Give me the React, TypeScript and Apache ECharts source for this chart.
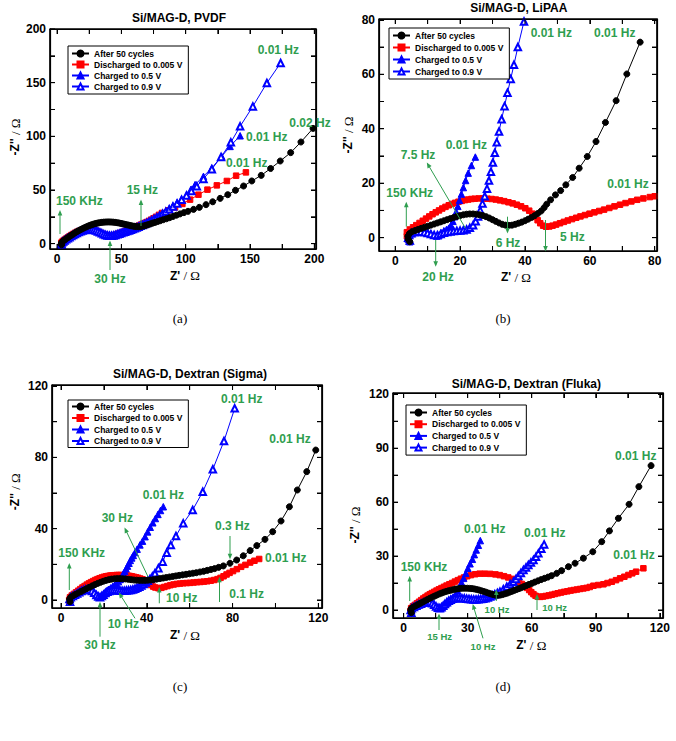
import React, { useEffect, useRef } from "react";
import * as echarts from "echarts";

type P = [number, number];

const seriesNames = ["After 50 cycles", "Discharged to 0.005 V", "Charged to 0.5 V", "Charged to 0.9 V"];

const aAfter: P[] = [[3.5,-1],[3.3,0.3],[3.8,1.4],[4.7,2.4],[5.8,3.4],[7,4.4],[8.3,5.5],[9.6,6.6],[11,7.7],[12.4,8.8],[13.8,9.9],[15.2,11],[16.7,12],[18.2,13],[19.7,13.9],[21.2,14.8],[22.7,15.6],[24.2,16.4],[25.7,17.1],[27.2,17.7],[28.7,18.3],[30.2,18.8],[31.7,19.2],[33.2,19.5],[34.7,19.8],[36.2,20],[37.7,20.1],[39.2,20.2],[40.7,20.2],[42.2,20.1],[43.7,20],[45.2,19.8],[46.7,19.5],[48.2,19.2],[49.7,18.8],[51.2,18.4],[52.7,18],[54.2,17.6],[55.7,17.2],[57.2,16.8],[58.7,16.4],[60.2,16.1],[61.7,15.9],[63.2,15.8],[64.7,15.9],[66.2,16.2],[67.7,16.6],[69.2,17.1],[70.8,17.7],[72.5,18.4],[74.3,19.1],[76.2,19.8],[78.2,20.6],[80.3,21.4],[82.6,22.3],[85,23.2],[87.5,24.2],[90.1,25.3],[92.8,26.5],[95.6,27.7],[98.6,28.9],[101.8,30.1],[106.1,31.9],[110.6,33.8],[115.8,36.3],[121,39],[126.8,42.2],[132.7,45.6],[138.7,49.7],[145,53.7],[151.4,58.4],[158.7,63.6],[166,70],[173.5,77],[181.6,84.8],[189.6,94.7],[199,107.4]];
const aDis: P[] = [[3.5,-0.5],[3.3,0.8],[3.9,1.8],[4.8,2.7],[5.9,3.7],[7.1,4.7],[8.4,5.8],[9.7,6.9],[11.1,8],[12.5,9],[13.9,10],[15.4,10.9],[16.9,11.7],[18.4,12.4],[19.9,12.9],[21.4,13.3],[22.9,13.5],[24.4,13.6],[25.9,13.5],[27.4,13.2],[28.9,12.6],[30.4,11.9],[31.9,11],[33.4,10.1],[34.9,9.2],[36.4,8.4],[37.9,7.7],[39.4,7.2],[40.9,7],[42.4,7.1],[43.9,7.5],[45.4,8.1],[46.9,8.8],[48.4,9.5],[49.9,10.2],[51.4,10.9],[52.9,11.6],[54.4,12.3],[55.9,13],[57.4,13.7],[58.9,14.4],[60.4,15.1],[61.9,15.9],[63.4,16.7],[64.9,17.5],[66.4,18.3],[67.9,19.1],[69.5,20],[71.3,21.1],[73.1,22.3],[75,23.6],[76.9,25],[79.2,26.8],[81.6,28.6],[86.5,31],[91.7,33.8],[97.4,37],[103.4,41],[109.9,45.6],[116.9,50.3],[124.2,54.3],[132,58.4],[139.2,63.3],[146.8,66.4]];
const aCh05: P[] = [[3.5,-1],[3.3,0.3],[3.8,1.3],[4.7,2.2],[5.8,3.1],[7,4.1],[8.3,5.1],[9.6,6.1],[11,7.1],[12.4,8.1],[13.8,9.1],[15.3,10],[16.8,10.9],[18.3,11.7],[19.8,12.4],[21.3,12.9],[22.8,13.3],[24.3,13.5],[25.8,13.5],[27.3,13.3],[28.8,12.9],[30.3,12.3],[31.8,11.5],[33.3,10.6],[34.8,9.7],[36.3,8.9],[37.8,8.2],[39.3,7.7],[40.8,7.4],[42.3,7.4],[43.8,7.7],[45.3,8.2],[46.8,8.8],[48.3,9.4],[49.8,10],[51.3,10.6],[52.8,11.2],[54.3,11.8],[55.8,12.4],[57.3,13],[58.8,13.7],[60.3,14.6],[61.8,15.4],[63.3,16.2],[64.8,17],[66.4,17.9],[68,18.8],[69.7,19.8],[71.5,20.9],[73.4,22.1],[75.4,23.4],[77.5,24.9],[79.7,26.5],[82,28.3],[84.5,30.3],[87.2,32.6],[90.1,35.2],[93.3,38.2],[96.8,41.6],[100.8,45.6],[104,50.5],[107.3,55],[113.8,62.7],[120.3,70.5],[128,81.3],[134.5,90.6],[142.3,100.5]];
const aCh09: P[] = [[3.5,-1],[3.3,0.2],[3.8,1.2],[4.7,2.1],[5.8,3],[7,4],[8.3,5],[9.6,6],[11,7],[12.4,8],[13.8,9],[15.3,9.9],[16.8,10.8],[18.3,11.6],[19.8,12.3],[21.3,12.8],[22.8,13.2],[24.3,13.4],[25.8,13.4],[27.3,13.2],[28.8,12.8],[30.3,12.2],[31.8,11.4],[33.3,10.5],[34.8,9.6],[36.3,8.8],[37.8,8.1],[39.3,7.6],[40.8,7.3],[42.3,7.3],[43.8,7.6],[45.3,8.1],[46.8,8.7],[48.3,9.3],[49.8,9.9],[51.3,10.5],[52.8,11.1],[54.3,11.7],[55.8,12.3],[57.3,12.9],[58.8,13.6],[60.3,14.4],[61.8,15.1],[63.3,15.8],[64.8,16.6],[66.4,17.4],[68,18.3],[69.7,19.3],[71.5,20.4],[73.4,21.6],[75.4,22.9],[77.5,24.4],[79.7,26],[82,27.8],[84.5,29.8],[87.2,32],[90.1,34.5],[93.3,37.4],[96.8,40.8],[100.6,44.8],[104.4,49],[108.6,53.4],[113.8,60.3],[120.3,69.4],[127.5,80.7],[135.1,94.4],[142.3,109.3],[152.2,127.9],[163.1,149.7],[173.8,168.3]];

const bAfter: P[] = [[4.5,-1.5],[4,-0.6],[3.9,0.5],[4.4,1.5],[5.2,2.2],[6.1,2.6],[7,3],[8,3.4],[9,3.8],[10,4.2],[11,4.6],[12,5],[13,5.4],[14,5.8],[15,6.2],[16,6.6],[17,7],[18,7.4],[19,7.8],[20,8.1],[21,8.4],[22,8.6],[23,8.7],[24,8.7],[25,8.6],[26,8.4],[27,8.1],[28,7.7],[29,7.2],[30,6.6],[31,6],[32,5.4],[33,4.9],[34,4.6],[35,4.5],[36,4.6],[37,4.9],[38,5.3],[39,5.7],[40,6.2],[41,6.8],[42,7.4],[43,8.1],[44,8.9],[45,9.8],[45.9,11],[46.7,12.3],[47.9,13.9],[49.4,15.7],[51,17.3],[52.6,19.4],[54.7,22.1],[56.7,25.5],[59.2,29.8],[61.9,35.3],[64.8,42.3],[68.1,50.3],[71.4,60.1],[75.5,71.8]];
const bDis: P[] = [[4.2,-1],[3.6,0.5],[3.6,2],[4.5,3],[5.5,3.8],[6.5,4.6],[7.5,5.4],[8.5,6.2],[9.5,7],[10.5,7.8],[11.5,8.6],[12.5,9.3],[13.5,10],[14.5,10.7],[15.5,11.3],[16.5,11.9],[17.5,12.4],[18.5,12.8],[19.5,13.2],[20.5,13.5],[21.5,13.8],[22.5,14],[23.5,14.2],[24.5,14.3],[25.8,14.4],[27.1,14.4],[28.4,14.3],[29.7,14.2],[31,14],[32.3,13.7],[33.6,13.4],[34.9,13],[36.2,12.6],[37.5,12.1],[38.8,11.5],[40.1,10.8],[41.3,9.9],[42.3,8.8],[43.1,7.6],[43.9,6.4],[44.7,5.3],[45.6,4.4],[46.5,4],[47.5,4.1],[48.5,4.4],[49.6,4.8],[50.8,5.3],[52,5.8],[53.2,6.3],[54.5,6.8],[55.8,7.3],[57.1,7.8],[58.5,8.3],[59.9,8.8],[61.4,9.3],[62.9,9.8],[64.4,10.3],[66,10.9],[67.6,11.5],[69.3,12.1],[71,12.7],[72.8,13.3],[74.6,13.9],[76.5,14.4],[78.5,14.9],[80,15.2]];
const bCh05: P[] = [[4.5,-1.5],[4,-0.5],[4.2,0.8],[5,1.5],[6,2],[7,2.3],[8,2.4],[9,2.3],[10,2],[11,1.5],[12,0.9],[12.8,0.6],[13.5,1],[14.2,1.8],[15,2.5],[15.8,3],[16.5,3.5],[17.2,4.5],[17.8,6],[18.3,7.7],[18.8,9.5],[19.3,11.5],[19.8,13.7],[20.4,16],[21,18.4],[21.7,21],[22.5,23.7],[23.5,26.5],[24.7,29.6]];
const bCh09: P[] = [[4.5,-1],[4,0],[4.3,1],[5,1.6],[6,2],[7,2.2],[8,2.2],[9,2],[10,1.7],[11,1.3],[12,1],[13,0.9],[14,1.3],[15,1.8],[16,2.1],[17,2.3],[18,2.4],[19,2.5],[20,2.6],[21,2.7],[22,3],[23,3.6],[24,4.6],[24.8,6],[25.5,7.8],[26.2,10],[26.9,12.5],[27.6,15.2],[28.3,18],[28.9,21],[29.5,24.2],[30.1,27.6],[30.7,31.2],[31.3,35],[32,39],[32.8,43.5],[33.7,48.3],[34.6,53.2],[35.6,58.3],[36.6,63.5],[37.8,70],[39.7,79.4]];

const cAfter: P[] = [[4.2,-1],[4,0.5],[4.5,1.5],[5.5,2.3],[6.7,3.1],[8,3.9],[9.3,4.7],[10.6,5.5],[11.9,6.3],[13.2,7.1],[14.5,7.9],[15.8,8.6],[17.1,9.3],[18.4,9.9],[19.7,10.5],[21,11],[22.3,11.4],[23.6,11.7],[24.9,11.9],[26.2,12],[27.5,12],[28.8,11.9],[30.1,11.8],[31.4,11.6],[32.7,11.4],[34,11.2],[35.3,11.1],[36.6,11],[37.9,11],[39.2,11],[40.5,11.1],[41.8,11.2],[43.1,11.4],[44.6,11.7],[46.1,12],[47.6,12.3],[49.1,12.6],[50.6,12.9],[52.1,13.2],[53.6,13.5],[55.1,13.8],[56.7,14.1],[58.3,14.4],[59.9,14.7],[61.5,15],[63.1,15.3],[64.8,15.7],[66.5,16.1],[68.2,16.6],[69.9,17.1],[71.6,17.6],[73.5,18.3],[75.7,19.1],[78.8,20.6],[81.9,22.4],[85,24.8],[88.2,27.7],[91.3,30.5],[95.1,34],[98.7,38.3],[102.6,44.3],[106.5,52.3],[110.2,61.7],[114.6,72],[118.8,84.1]];
const cDis: P[] = [[4,-1.5],[3.8,0],[4.2,1.5],[5,2.5],[6,3.4],[7,4.3],[8,5.2],[9,6.1],[10,7],[11,7.8],[12,8.6],[13,9.3],[14,10],[15,10.6],[16,11.2],[17,11.7],[18,12.2],[19,12.6],[20,13],[21,13.3],[22,13.5],[23,13.7],[24,13.8],[25,13.9],[26,14],[27,14],[28,14],[29,13.9],[30,13.8],[31,13.7],[32,13.5],[33,13.3],[34,13],[35,12.7],[36,12.4],[37,12],[38,11.6],[39,11],[40,10.3],[41,9.4],[42,8.4],[43,7.5],[44,7],[45.4,6.6],[46.8,6.8],[48.2,7.3],[49.6,7.8],[51,8.3],[52.5,8.7],[54,9],[55.5,9.2],[57,9.4],[58.6,9.5],[60.2,9.6],[61.8,9.8],[63.4,10],[65,10.1],[66.6,10.3],[68.2,10.5],[69.8,10.8],[71.4,11.2],[73,11.7],[74.4,12.4],[75.8,13.3],[77.2,14.3],[78.6,15.2],[80.2,16.2],[82,17.3],[84,18.6],[86,19.7],[88.2,21],[90.2,22],[92.4,23]];
const cCh05: P[] = [[4.2,-1],[4,0.5],[4.5,1.5],[5.5,2.3],[6.5,3],[7.5,3.7],[8.5,4.4],[9.5,5],[10.5,5.5],[11.5,5.9],[12.5,6.1],[13.5,6],[14.5,5.4],[15.5,4.4],[16.5,3.2],[17.4,2.2],[18.2,1.8],[19,2.3],[19.8,3.2],[20.6,4.2],[21.4,5.2],[22.3,6],[23.2,6.8],[24.1,7.6],[25,8.4],[25.9,9.3],[26.8,10.3],[27.6,11.5],[28.3,13],[29,14.6],[29.7,16],[30.3,17.5],[31,19],[31.7,20.6],[32.3,22.2],[33,23.6],[33.7,25],[34.5,26.6],[35.5,28.5],[36.8,30.9],[38,33],[39.2,35.5],[40.4,38.2],[41.6,40.8],[42.8,43.3],[44,45.7],[45.2,48],[46.4,50.2],[47.7,52.3]];
const cCh09: P[] = [[4.2,-1],[4,0.5],[4.5,1.5],[5.5,2.3],[6.5,3],[7.5,3.7],[8.5,4.4],[9.5,5],[10.5,5.5],[11.5,5.9],[12.5,6],[13.5,5.8],[14.5,5.1],[15.5,4],[16.5,2.8],[17.4,1.9],[18.2,1.6],[19,2.2],[19.8,3],[20.7,3.9],[21.6,4.6],[22.5,5.1],[23.5,5.4],[24.5,5.5],[25.5,5.5],[26.5,5.4],[27.5,5.3],[28.5,5.2],[29.5,5.2],[30.5,5.3],[31.5,5.4],[32.5,5.6],[33.5,5.9],[34.5,6.3],[35.5,6.8],[36.5,7.4],[37.5,8.1],[38.5,8.9],[39.5,9.8],[40.5,10.8],[41.5,11.8],[42.6,13.2],[43.8,15],[45.4,17.8],[47.4,21.5],[49.3,26.5],[51.2,30.8],[53.6,35.9],[57,43],[61.4,50.5],[66.1,60.7],[70.8,73.3],[76,89.2],[81,107.5]];

const dAfter: P[] = [[3.6,-1.5],[3.3,0],[3.6,0.9],[4.5,1.6],[5.6,2.3],[6.7,3],[7.8,3.7],[8.9,4.4],[10,5.1],[11.1,5.8],[12.2,6.5],[13.3,7.1],[14.4,7.7],[15.5,8.3],[16.6,8.9],[17.7,9.4],[18.8,9.9],[19.9,10.3],[21,10.7],[22.1,11],[23.2,11.3],[24.3,11.6],[25.4,11.8],[26.5,12],[27.6,12.1],[28.7,12.1],[29.8,12.1],[30.9,12],[32,11.9],[33.1,11.7],[34.2,11.4],[35.3,11.1],[36.4,10.7],[37.5,10.3],[38.6,9.9],[39.7,9.4],[40.8,9],[41.9,8.6],[43,8.3],[44.1,8.2],[45.2,8.3],[46.3,8.6],[47.4,9],[48.5,9.4],[49.6,9.9],[50.7,10.4],[51.8,10.9],[52.9,11.4],[54,11.9],[55.1,12.4],[56.3,13],[57.5,13.6],[58.7,14.2],[60,14.8],[61.4,15.5],[62.9,16.2],[64.4,16.9],[66,17.6],[67.6,18.3],[69.3,19.1],[71.7,20.4],[74,21.9],[77.2,24.1],[80.3,26],[84.2,28.8],[88.6,32.4],[92.8,38],[96.4,44],[100.6,51],[105.6,58.8],[110.2,68.6],[115.9,80.3]];
const dDis: P[] = [[3.5,-2],[3.2,-0.5],[3.5,1],[4.3,2],[5.2,2.8],[6.2,3.7],[7.2,4.6],[8.2,5.5],[9.2,6.4],[10.2,7.2],[11.2,8],[12.2,8.7],[13.2,9.4],[14.3,10.1],[15.4,10.8],[16.5,11.5],[17.7,12.2],[18.9,12.9],[20.1,13.6],[21.4,14.3],[22.7,15],[24,15.8],[25.4,16.6],[26.8,17.4],[28.3,18.1],[29.8,18.8],[31.5,19.4],[33.5,19.9],[35.6,20.2],[38,20.2],[40.5,20.1],[43,19.8],[45,19.4],[47,18.8],[49,18.1],[51,17.3],[52.5,16.5],[54,15.5],[55.3,14.5],[56.5,13.5],[57.7,12.3],[58.8,11.1],[59.8,9.9],[60.8,8.8],[61.8,7.9],[62.8,7.4],[64,7.3],[65.3,7.5],[66.6,7.8],[68,8.1],[69.4,8.5],[70.8,8.9],[72.2,9.3],[73.7,9.7],[75.2,10.1],[76.7,10.4],[78.2,10.8],[79.7,11.1],[81.2,11.4],[82.7,11.7],[84.2,12],[85.7,12.3],[87.2,12.8],[88.9,13.5],[91.2,13.9],[93.6,14.3],[95.5,15],[97.5,15.7],[99.5,16.6],[101.4,17.6],[103.4,18.5],[105.3,19.5],[107.1,20.4],[108.9,21.3],[112.3,23.2]];
const dCh05: P[] = [[3.6,-1.5],[3.3,0],[3.8,1],[4.8,1.7],[5.9,2.3],[7,2.8],[8.1,3.3],[9.2,3.8],[10.3,4.2],[11.4,4.5],[12.4,4.5],[13.4,4],[14.3,3.1],[15.2,2],[16.1,1.2],[16.9,0.9],[17.7,1.3],[18.5,2.1],[19.3,3],[20.1,3.9],[20.9,4.7],[21.7,5.4],[22.5,6.2],[23.5,7.2],[24.4,8.3],[25.3,10.6],[26.2,13],[27.1,15.3],[28.1,17.6],[29.1,20.4],[30.1,23.2],[31.1,25.7],[32.2,28.2],[33.1,30.8],[34,33.4],[35,36],[35.9,38.6]];
const dCh09: P[] = [[3.6,-1.5],[3.3,0],[3.8,1],[4.8,1.7],[5.9,2.4],[7,3],[8.1,3.5],[9.2,4],[10.3,4.3],[11.4,4.5],[12.4,4.4],[13.4,3.8],[14.3,2.9],[15.2,1.9],[16.1,1.2],[16.9,1],[17.7,1.5],[18.5,2.4],[19.3,3.4],[20.2,4.3],[21.1,5.1],[22,5.7],[23,6.2],[24,6.5],[25.1,6.7],[26.2,6.7],[27.3,6.6],[28.4,6.5],[29.5,6.3],[30.6,6.1],[31.7,6],[32.8,5.9],[33.9,5.9],[35,6],[36.1,6.1],[37.2,6.3],[38.3,6.6],[39.4,7],[40.5,7.5],[41.6,8.1],[42.7,8.8],[43.9,9.5],[45.1,10.2],[46.7,11.6],[48.3,13],[49.9,14.4],[51.4,15.7],[52.6,17.3],[53.7,18.9],[54.9,20.6],[56.1,22.3],[57.3,23.6],[58.4,25],[59.6,26.4],[60.8,27.8],[62,29.6],[63.1,31.5],[64.5,34],[65.8,36.5]];

const aTicks = [0, 50, 100, 150, 200];
const aMinor = [0, 25, 50, 75, 100, 125, 150, 175, 200];
const bTicks = [0, 20, 40, 60, 80];
const bMinor = [0, 10, 20, 30, 40, 50, 60, 70, 80];
const cTicks = [0, 40, 80, 120];
const cMinor = [0, 20, 40, 60, 80, 100, 120];
const dTicks = [0, 30, 60, 90, 120];
const dMinor = [0, 15, 30, 45, 60, 75, 90, 105, 120];

const aNotes = ["0.01 Hz", "0.02 Hz", "0.01 Hz", "0.01 Hz", "15 Hz", "150 KHz", "30 Hz"];
const bNotes = ["0.01 Hz", "0.01 Hz", "0.01 Hz", "0.01 Hz", "7.5 Hz", "150 KHz", "6 Hz", "5 Hz", "20 Hz"];
const cNotes = ["0.01 Hz", "0.01 Hz", "0.01 Hz", "30 Hz", "0.3 Hz", "150 KHz", "0.01 Hz", "10 Hz", "0.1 Hz", "10 Hz", "30 Hz"];
const dNotes = ["0.01 Hz", "0.01 Hz", "0.01 Hz", "150 KHz", "0.01 Hz", "10 Hz", "10 Hz", "15 Hz", "10 Hz"];

const FONT = "'Liberation Sans', Arial, Helvetica, sans-serif";
const SERIF = "'Liberation Serif', 'Times New Roman', serif";
const GREEN = "#2f9e4f";
const TICK = 5;

const styles = [
  { color: "#000000", symbol: "circle", size: 6, z: 6 },
  { color: "#ff0000", symbol: "rect", size: 5.5, z: 3 },
  { color: "#0000ff", symbol: "triangle", size: 6.5, z: 4 },
  { color: "#0000ff", symbol: "emptyTriangle", size: 6.5, z: 5 },
];

const panels = [
  {
    grid: { left: 50, top: 29, width: 266, height: 220 },
    x: [-5.5, 201.3], y: [-5, 200], xl: aTicks, xt: aMinor, yl: aTicks, yt: aMinor,
    data: [aAfter, aDis, aCh05, aCh09],
    legend: { left: 68, top: 46, gap: 2, pad: 3 },
    title: { text: "Si/MAG-D, PVDF", x: 179, y: 17.5 },
    yName: { x: 15, y: 137 }, xName: { x: 185, y: 275.5 }, caption: { text: "(a)", x: 180, y: 318 },
    notes: aNotes,
    notePos: [[278.3, 50], [310, 122.7], [266.7, 136.7], [246.7, 163], [142.3, 190], [79.3, 201], [110, 279.3]],
    small: [] as number[],
    arrows: [[60, 234, 60, 210], [141, 226, 141, 199.5], [110, 270, 110, 240.5]],
  },
  {
    grid: { left: 379, top: 19, width: 278, height: 232 },
    x: [-5, 80.7], y: [-4.9, 80.3], xl: bTicks, xt: bMinor, yl: bTicks, yt: bMinor,
    data: [bAfter, bDis, bCh05, bCh09],
    legend: { left: 389, top: 28, gap: 3, pad: 3 },
    title: { text: "Si/MAG-D, LiPAA", x: 518.8, y: 8 },
    yName: { x: 348, y: 135 }, xName: { x: 516, y: 277 }, caption: { text: "(b)", x: 503, y: 318 },
    notes: bNotes,
    notePos: [[466.3, 145], [551.3, 33.3], [614.7, 33.3], [628, 184.3], [418, 155], [409.7, 192.7], [508, 242.7], [572.3, 237.3], [438, 277]],
    small: [] as number[],
    arrows: [[406.3, 226.7, 406.3, 201.7], [465.5, 228.3, 426.8, 162.5], [507.5, 216.7, 507.5, 233.5], [545.5, 220, 545.5, 251.5], [435.7, 240, 435.7, 266.7]],
  },
  {
    grid: { left: 52, top: 385, width: 270, height: 223 },
    x: [-4.2, 121.7], y: [-4.5, 120.6], xl: cTicks, xt: cMinor, yl: cTicks, yt: cMinor,
    data: [cAfter, cDis, cCh05, cCh09],
    legend: { left: 68, top: 400, gap: 2.5, pad: 2 },
    title: { text: "Si/MAG-D, Dextran (Sigma)", x: 190, y: 373.5 },
    yName: { x: 15, y: 491.7 }, xName: { x: 185, y: 635 }, caption: { text: "(c)", x: 180, y: 686 },
    notes: cNotes,
    notePos: [[241.7, 399.3], [290, 439.3], [163.3, 495], [117.3, 517.7], [232.3, 525.7], [81.7, 552.7], [285.7, 558.3], [181.7, 598.3], [246.7, 594.3], [123.3, 624.3], [100, 645]],
    small: [] as number[],
    arrows: [[69.3, 590, 69.3, 563], [148, 576.7, 124.5, 527.5], [230, 536, 230, 559.3], [159.3, 603.3, 159.3, 587], [219.5, 602, 219.5, 576.7], [135, 618.3, 118.8, 592.5], [100, 636.7, 100, 601.7]],
  },
  {
    grid: { left: 393, top: 393, width: 270, height: 225 },
    x: [-5, 121.5], y: [-4.45, 120.7], xl: dTicks, xt: dMinor, yl: dTicks, yt: dMinor,
    data: [dAfter, dDis, dCh05, dCh09],
    legend: { left: 406, top: 405, gap: 2.7, pad: 3 },
    title: { text: "Si/MAG-D, Dextran (Fluka)", x: 526.3, y: 383.5 },
    yName: { x: 355, y: 525 }, xName: { x: 531.3, y: 645 }, caption: { text: "(d)", x: 503, y: 686 },
    notes: dNotes,
    notePos: [[635.7, 456], [484.7, 529.3], [544.7, 532.7], [424, 566.7], [634, 555], [497, 609.3], [554.7, 607.3], [439.7, 636], [483, 646]],
    small: [5, 6, 7, 8],
    arrows: [[409.7, 601, 409.7, 576], [496.3, 601, 496.3, 589.5], [537, 610, 537, 594], [439, 630, 439, 613.5], [483, 638.3, 472.7, 604]],
  },
];

function arrow(x1: number, y1: number, x2: number, y2: number) {
  const dx = x2 - x1, dy = y2 - y1;
  const L = Math.hypot(dx, dy);
  const ux = dx / L, uy = dy / L;
  const hl = 5.5, hw = 2.3;
  const bx = x2 - ux * hl, by = y2 - uy * hl;
  return [
    { type: "line", z: 100, silent: true, shape: { x1, y1, x2: x2 - ux * 2, y2: y2 - uy * 2 }, style: { stroke: GREEN, lineWidth: 1 } },
    { type: "polygon", z: 100, silent: true, shape: { points: [[x2, y2], [bx - uy * hw, by + ux * hw], [bx + uy * hw, by - ux * hw]] }, style: { fill: GREEN } },
  ];
}

function txt(text: string, x: number, y: number, font: string, fill: string) {
  return {
    type: "text", z: 100, silent: true, x, y,
    style: { text, font, fill, align: "center", verticalAlign: "middle", textAlign: "center", textVerticalAlign: "middle" },
  };
}

function richTxt(text: string, x: number, y: number, rotation: number) {
  return {
    type: "text", z: 100, silent: true, x, y, rotation,
    style: {
      text, fill: "#000", align: "center", verticalAlign: "middle",
      rich: {
        a: { font: `bold 12px ${FONT}`, fill: "#000" },
        b: { font: `13px ${SERIF}`, fill: "#000" },
      },
    },
  };
}

function buildOption() {
  const grid: any[] = [];
  const xAxis: any[] = [];
  const yAxis: any[] = [];
  const series: any[] = [];
  const legend: any[] = [];
  const graphic: any[] = [];

  panels.forEach((p, i) => {
    grid.push({ ...p.grid, show: true, borderColor: "#000", borderWidth: 1.2, backgroundColor: "transparent" });
    const mk = (range: number[], labels: number[], ticks: number[], pos: string, showLabel: boolean) => ({
      type: "value", gridIndex: i, position: pos, min: range[0], max: range[1],
      axisLine: { show: true, onZero: false, lineStyle: { color: "#000", width: 1.2 } },
      splitLine: { show: false },
      axisTick: { show: true, inside: true, length: TICK, customValues: ticks, lineStyle: { color: "#000", width: 1 } },
      axisLabel: showLabel
        ? { color: "#000", fontSize: 12, fontWeight: "bold", fontFamily: FONT, margin: 4, customValues: labels }
        : { show: false },
    });
    xAxis.push(mk(p.x, p.xl, p.xt, "bottom", true));
    xAxis.push(mk(p.x, p.xl, p.xt, "top", false));
    yAxis.push(mk(p.y, p.yl, p.yt, "left", true));
    yAxis.push(mk(p.y, p.yl, p.yt, "right", false));

    const xi = 2 * i;
    const [x0, x1] = p.x, [y0, y1] = p.y;
    series.push({
      type: "line", name: "frame" + i, xAxisIndex: xi, yAxisIndex: xi, silent: true, z: 8,
      clip: false, symbol: "none", showSymbol: false,
      lineStyle: { color: "#000", width: 1.2 },
      data: [[x0, y0], [x1, y0], [x1, y1], [x0, y1], [x0, y0]],
      emphasis: { disabled: true },
    });
    const dyu = (TICK * (y1 - y0)) / p.grid.height;
    const dxu = (TICK * (x1 - x0)) / p.grid.width;
    const tickData: any[] = [];
    p.xt.forEach((v) => {
      tickData.push([v, y0], [v, y0 + dyu], [NaN, NaN], [v, y1], [v, y1 - dyu], [NaN, NaN]);
    });
    p.yt.forEach((v) => {
      tickData.push([x0, v], [x0 + dxu, v], [NaN, NaN], [x1, v], [x1 - dxu, v], [NaN, NaN]);
    });
    series.push({
      type: "line", name: "ticks" + i, xAxisIndex: xi, yAxisIndex: xi, silent: true, z: 8,
      clip: false, symbol: "none", showSymbol: false, connectNulls: false,
      lineStyle: { color: "#000", width: 1 },
      data: tickData,
      emphasis: { disabled: true },
    });

    p.data.forEach((d, k) => {
      const s = styles[k];
      series.push({
        name: seriesNames[k], type: "line", xAxisIndex: xi, yAxisIndex: xi,
        data: d, symbol: s.symbol, symbolSize: s.size, showSymbol: true, z: s.z,
        lineStyle: { color: s.color, width: 1 },
        itemStyle: { color: s.color, borderColor: s.color, borderWidth: 1 },
        emphasis: { disabled: true }, clip: true,
      });
    });

    legend.push({
      orient: "vertical", left: p.legend.left, top: p.legend.top, z: 20,
      padding: [p.legend.pad, 6, p.legend.pad, 3], itemGap: p.legend.gap,
      itemWidth: 17, itemHeight: 7.5, borderColor: "#000", borderWidth: 1, borderRadius: 0,
      backgroundColor: "#fff", selectedMode: false, data: seriesNames,
      textStyle: { fontSize: 8.5, fontWeight: "bold", fontFamily: FONT, color: "#000" },
    });

    graphic.push(txt(p.title.text, p.title.x, p.title.y, `bold 12px ${FONT}`, "#000"));
    graphic.push(richTxt("{a|-Z'' }{b|/ Ω}", p.yName.x, p.yName.y, Math.PI / 2));
    graphic.push(richTxt("{a|Z' }{b|/ Ω}", p.xName.x, p.xName.y, 0));
    graphic.push(txt(p.caption.text, p.caption.x, p.caption.y, `13px ${SERIF}`, "#000"));
    p.notes.forEach((n, j) => {
      const [nx, ny] = p.notePos[j];
      const f = p.small.indexOf(j) >= 0 ? `bold 9.5px ${FONT}` : `bold 12px ${FONT}`;
      graphic.push(txt(n, nx, ny, f, GREEN));
    });
    p.arrows.forEach((a) => graphic.push(...arrow(a[0], a[1], a[2], a[3])));
  });

  return { animation: false, grid, xAxis, yAxis, series, legend, graphic };
}

export default function App() {
  const ref = useRef<HTMLDivElement>(null);
  useEffect(() => {
    if (!ref.current) return;
    const chart = echarts.init(ref.current, null, { renderer: "svg" });
    chart.setOption(buildOption() as any);
    return () => chart.dispose();
  }, []);
  return (
    <div
      ref={ref}
      style={{ position: "absolute", left: 0, top: 0, width: 676, height: 741, background: "#fff" }}
    />
  );
}
